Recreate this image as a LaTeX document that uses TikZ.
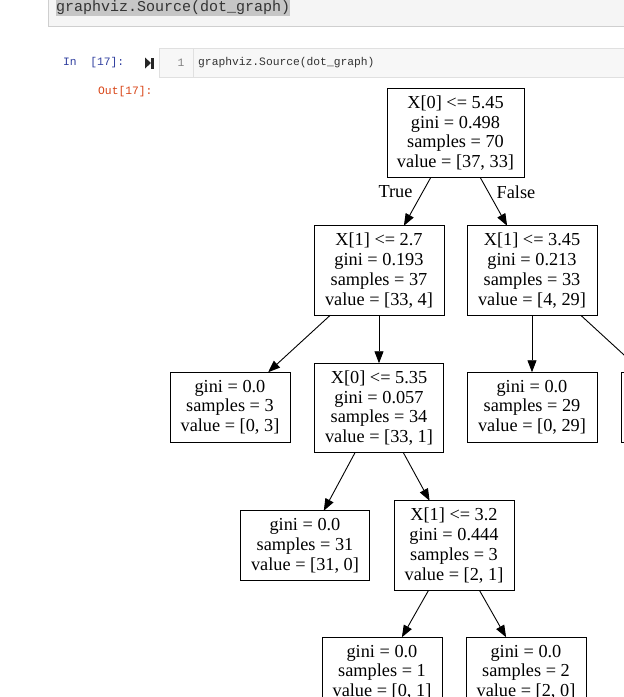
\documentclass[tikz,border=0pt]{standalone}
\usepackage{fontspec}
\setmainfont{Liberation Serif}
\newfontfamily\codefont{Liberation Mono}
\usepackage{xcolor}
\usetikzlibrary{arrows.meta, positioning}
\definecolor{cellgray}{HTML}{F5F5F5}
\definecolor{cellline}{HTML}{CFCFCF}
\definecolor{inputgray}{HTML}{F7F7F7}
\definecolor{inputline}{HTML}{E0E0E0}
\definecolor{selgray}{HTML}{C6C6C6}
\definecolor{promptblue}{HTML}{303F9F}
\definecolor{promptred}{HTML}{D84315}
\definecolor{codegray}{HTML}{333333}

\begin{document}
\begin{tikzpicture}[x=1pt, y=-1pt,
    treebox/.style={rectangle, draw, line width=0.9pt, align=center, inner sep=0pt,
                    outer sep=0pt, fill=white, font=\fontsize{18.3}{19.8}\selectfont},
    splitbox/.style={treebox, minimum height=89.5pt},
    leafbox/.style={treebox, minimum height=70pt},
    arrow/.style={-{Triangle[length=12pt, width=9pt]}, line width=0.9pt},
    edgelbl/.style={font=\fontsize{18.3}{19.8}\selectfont},
    prompt/.style={anchor=west, inner sep=0pt, font=\codefont\fontsize{11.3}{13}\selectfont},
]
\useasboundingbox (0,0) rectangle (624,697);
\clip (0,0) rectangle (624,697);

% Previous cell
\draw[cellline, fill=cellgray] (48,-5) rectangle (640,26);
\node[anchor=base west, fill=selgray, inner sep=0pt, text height=12pt, text depth=4.5pt,
      text=codegray, font=\codefont\fontsize{15}{17}\selectfont] (topcode) at (56,11)
      {graphviz.Source(dot\_graph)};

% Input cell
\draw[inputline, fill=inputgray] (159,48) rectangle (640,77);
\draw[inputline] (193,48) -- (193,77);
\node[prompt, text=promptblue] (inprompt) at (63,63) {In\ \ [17]:};
\fill[black!85] (145,57.5) -- (151,63) -- (145,68.5) -- cycle;
\fill[black!85] (151,57.5) rectangle (153.5,68.5);
\node[prompt, anchor=center, text=gray] (lineno) at (181,63) {1};
\node[prompt, text=codegray] (incode) at (198,63) {graphviz.Source(dot\_graph)};

% Output prompt
\node[prompt, text=promptred] (outprompt) at (98,92) {Out[17]:};

% Root
\node[splitbox, minimum width=137pt] (root) at (455.5,133)
     {X[0] <= 5.45\\gini = 0.498\\samples = 70\\value = [37, 33]};

% Depth 1
\node[splitbox, minimum width=130pt, below=48pt of root, xshift=-76.5pt] (xa)
     {X[1] <= 2.7\\gini = 0.193\\samples = 37\\value = [33, 4]};
\node[splitbox, minimum width=130pt, below=48pt of root, xshift=76.5pt] (xb)
     {X[1] <= 3.45\\gini = 0.213\\samples = 33\\value = [4, 29]};

% Depth 2
\node[leafbox, minimum width=120pt, below=57pt of xa, xshift=-149pt] (leafa)
     {gini = 0.0\\samples = 3\\value = [0, 3]};
\node[splitbox, minimum width=129pt, below=48pt of xa] (xc)
     {X[0] <= 5.35\\gini = 0.057\\samples = 34\\value = [33, 1]};
\node[leafbox, minimum width=130pt, below=57pt of xb] (leafb)
     {gini = 0.0\\samples = 29\\value = [0, 29]};
\node[leafbox, minimum width=120pt, below=57pt of xb, xshift=149pt] (leafc) {};

% Depth 3
\node[leafbox, minimum width=129pt, below=58pt of xc, xshift=-74pt] (leafd)
     {gini = 0.0\\samples = 31\\value = [31, 0]};
\node[splitbox, minimum width=120pt, below=48pt of xc, xshift=75pt] (xd)
     {X[1] <= 3.2\\gini = 0.444\\samples = 3\\value = [2, 1]};

% Depth 4
\node[leafbox, minimum width=120pt, below=47pt of xd, xshift=-72pt] (leafe)
     {gini = 0.0\\samples = 1\\value = [0, 1]};
\node[leafbox, minimum width=120pt, below=47pt of xd, xshift=72pt] (leaff)
     {gini = 0.0\\samples = 2\\value = [2, 0]};

% Arrows
\draw[arrow] (root) -- (xa);
\draw[arrow] (root) -- (xb);
\draw[arrow] (xa) -- (leafa);
\draw[arrow] (xa) -- (xc);
\draw[arrow] (xb) -- (leafb);
\draw[arrow] (xb) -- (leafc);
\draw[arrow] (xc) -- (leafd);
\draw[arrow] (xc) -- (xd);
\draw[arrow] (xd) -- (leafe);
\draw[arrow] (xd) -- (leaff);

% Edge labels
\node[edgelbl] (truelbl) at (395.5,192) {True};
\node[edgelbl] (falselbl) at (516,192) {False};
\end{tikzpicture}
\end{document}
